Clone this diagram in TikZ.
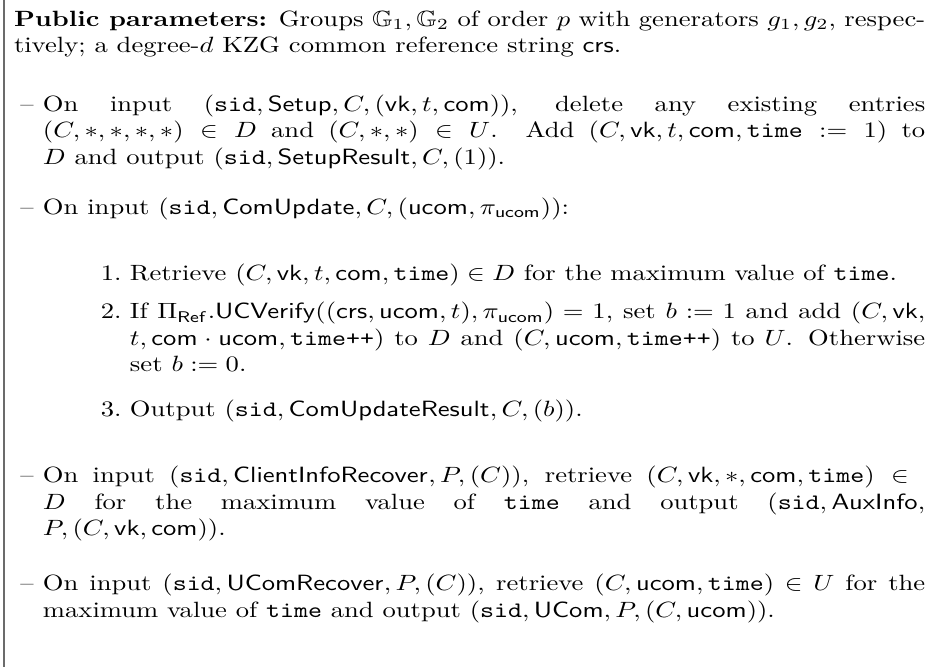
\documentclass[tikz,border=0pt]{standalone}
\usepackage{amssymb}
\hfuzz=4pt
\tikzset{
  framerule/.style={draw=black!58, line width=0.9pt},
  % every text block is set in 10pt and widened on the page
  para/.style={anchor=base west, inner sep=0pt, outer sep=0pt,
               xscale=1.273, yscale=1.057, transform shape},
  itemlabel/.style={para}
}
% shorthands for the functionality's identifiers
\newcommand{\tsf}[1]{\mathsf{#1}}
\newcommand{\ttv}[1]{\mathtt{#1}}
\newcommand{\tinc}{\mbox{\texttt{time++}}}
\newcommand{\blockbox}[2]{\begin{minipage}[t]{#1}#2\end{minipage}}
\begin{document}
\begin{tikzpicture}[x=1pt, y=1pt]
  \useasboundingbox (0,0) rectangle (446.9,-319.1);
  % left edge of the surrounding frame
  \coordinate (rtop) at (1.8,0);
  \coordinate (rbot) at (1.8,-319.1);
  \draw[framerule] (rtop) -- (rbot);

  % public parameters
  \node[para] (hdr) at (6.70,-12.44) {\blockbox{342.5pt}{%
    \textbf{Public parameters:} Groups $\mathbb{G}_1,\mathbb{G}_2$ of order $p$ with generators $g_1,g_2$, respec-\linebreak
    tively; a degree-$d$ KZG common reference string $\tsf{crs}$.}};

  % Setup
  \node[itemlabel] (l1) at (9.8,-53.3) {\textendash};
  \node[para] (i1) at (20.57,-53.3) {\blockbox{331.6pt}{%
    On input $(\ttv{sid},\tsf{Setup},C,(\tsf{vk},t,\tsf{com}))$, delete any existing entries\linebreak
    $(C,*,*,*,*)\in D$ and $(C,*,*)\in U$. Add $(C,\tsf{vk},t,\tsf{com},\ttv{time}:=1)$ to\linebreak
    $D$ and output $(\ttv{sid},\tsf{SetupResult},C,(1))$.}};

  % ComUpdate
  \node[itemlabel] (l2) at (9.8,-102.4) {\textendash};
  \node[para] (i2) at (20.57,-102.4) {\blockbox{331.6pt}{%
    On input $(\ttv{sid},\tsf{ComUpdate},C,(\tsf{ucom},\pi_{\tsf{ucom}}))$:}};

  \node[itemlabel] (n1) at (48.3,-134.2) {1.};
  \node[para] (e1) at (62.20,-134.2) {\blockbox{298.9pt}{%
    Retrieve $(C,\tsf{vk},t,\tsf{com},\ttv{time})\in D$ for the maximum value of $\ttv{time}$.}};

  \node[itemlabel] (n2) at (48.3,-152.6) {2.};
  \node[para] (e2) at (62.20,-152.6) {\blockbox{298.9pt}{%
    If $\Pi_{\tsf{Ref}}.\tsf{UCVerify}((\tsf{crs},\tsf{ucom},t),\pi_{\tsf{ucom}})=1$, set $b:=1$ and add $(C,\tsf{vk},$\linebreak
    $t,\tsf{com}\cdot\tsf{ucom},\tinc)$ to $D$ and $(C,\tsf{ucom},\tinc)$ to $U$. Otherwise\linebreak
    set $b:=0$.}};

  \node[itemlabel] (n3) at (48.3,-199.3) {3.};
  \node[para] (e3) at (62.20,-199.3) {\blockbox{298.9pt}{%
    Output $(\ttv{sid},\tsf{ComUpdateResult},C,(b))$.}};

  % ClientInfoRecover
  \node[itemlabel] (l3) at (9.8,-230.9) {\textendash};
  \node[para] (i3) at (20.57,-230.9) {\blockbox{331.6pt}{%
    On input $(\ttv{sid},\tsf{ClientInfoRecover},P,(C))$, retrieve $(C,\tsf{vk},*,\tsf{com},\ttv{time})\in{}$\linebreak
    $D$ for the maximum value of $\ttv{time}$ and output $(\ttv{sid},\tsf{AuxInfo},$\linebreak
    $P,(C,\tsf{vk},\tsf{com}))$.}};

  % UComRecover
  \node[itemlabel] (l4) at (9.8,-282.6) {\textendash};
  \node[para] (i4) at (20.57,-282.6) {\blockbox{331.6pt}{%
    On input $(\ttv{sid},\tsf{UComRecover},P,(C))$, retrieve $(C,\tsf{ucom},\ttv{time})\in U$ for the\linebreak
    maximum value of $\ttv{time}$ and output $(\ttv{sid},\tsf{UCom},P,(C,\tsf{ucom}))$.}};
\end{tikzpicture}
\end{document}
